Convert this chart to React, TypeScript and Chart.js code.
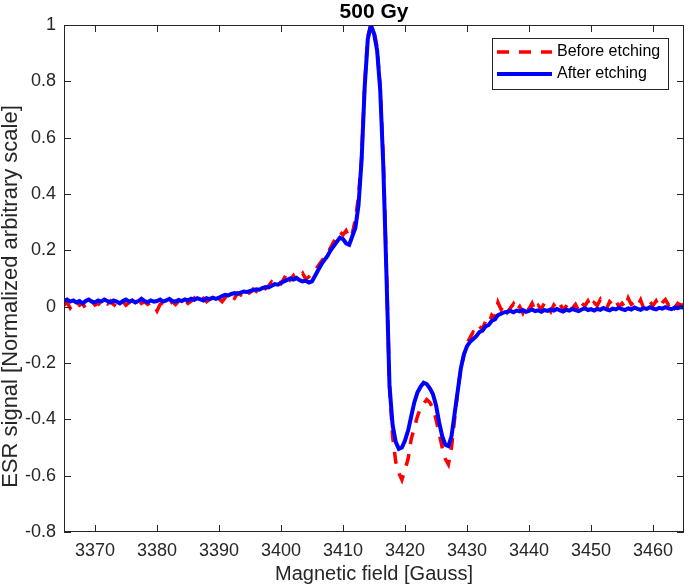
import React, { useEffect, useRef } from "react";
import { Chart, registerables } from "chart.js";

Chart.register(...registerables);

// Magnetic field sampling (Gauss): 3365 .. 3465, every 0.5 G
const fieldStart = 3365;
const fieldStep = 0.5;

// ESR signal, before etching (red dashed)
const beforeEtching: number[] = [
  0.005, 0.015, -0.005, 0.010, 0.020, 0.005, 0.012, -0.008, 0.010, 0.018,
  0.006, 0.012, 0.000, 0.015, 0.010, 0.020, 0.008, 0.000, 0.012, 0.018,
  0.005, 0.015, 0.022, 0.010, 0.004, 0.012, 0.018, 0.008, 0.015, 0.005,
  -0.015, 0.008, 0.015, 0.022, 0.010, 0.018, 0.008, 0.020, 0.014, 0.025,
  0.012, 0.020, 0.030, 0.015, 0.024, 0.030, 0.018, 0.026, 0.035, 0.020,
  0.028, 0.018, 0.032, 0.048, 0.038, 0.030, 0.048, 0.042, 0.058, 0.045,
  0.050, 0.062, 0.054, 0.068, 0.076, 0.064, 0.074, 0.088, 0.078, 0.092,
  0.082, 0.100, 0.122, 0.096, 0.110, 0.092, 0.102, 0.118, 0.098, 0.106,
  0.120, 0.130, 0.145, 0.160, 0.175, 0.190, 0.210, 0.230, 0.255, 0.265,
  0.255, 0.270, 0.245, 0.260, 0.310, 0.390, 0.530, 0.790, 0.960, 1.000,
  0.980, 0.920, 0.780, 0.520, 0.140, -0.280, -0.460, -0.550, -0.590, -0.615,
  -0.580, -0.540, -0.470, -0.430, -0.390, -0.360, -0.345, -0.330, -0.340, -0.360,
  -0.400, -0.450, -0.500, -0.540, -0.560, -0.500, -0.400, -0.300, -0.220, -0.170,
  -0.130, -0.110, -0.090, -0.095, -0.070, -0.080, -0.050, -0.060, -0.030, -0.040,
  0.015, -0.010, 0.005, -0.020, -0.005, 0.010, -0.015, 0.000, -0.022, 0.008,
  -0.008, 0.012, -0.015, 0.004, -0.010, 0.015, -0.005, -0.018, 0.006, -0.008,
  0.010, -0.012, 0.002, 0.018, -0.006, 0.008, -0.014, 0.012, 0.002, 0.020,
  -0.004, 0.014, 0.004, 0.025, 0.002, -0.008, 0.018, 0.006, 0.022, 0.000,
  0.012, -0.004, 0.030, 0.008, 0.016, 0.002, 0.024, -0.006, 0.010, 0.018,
  0.004, 0.020, -0.002, 0.014, 0.025, 0.006, 0.018, -0.004, 0.012, 0.005,
  0.008,
];

// ESR signal, after etching (blue solid)
const afterEtching: number[] = [
  0.020, 0.025, 0.018, 0.022, 0.015, 0.020, 0.012, 0.020, 0.025, 0.018,
  0.015, 0.022, 0.018, 0.025, 0.020, 0.015, 0.022, 0.018, 0.012, 0.020,
  0.025, 0.018, 0.022, 0.015, 0.020, 0.028, 0.020, 0.016, 0.022, 0.018,
  0.020, 0.025, 0.018, 0.022, 0.028, 0.020, 0.018, 0.024, 0.020, 0.026,
  0.022, 0.028, 0.024, 0.030, 0.026, 0.022, 0.030, 0.027, 0.032, 0.028,
  0.032, 0.038, 0.042, 0.040, 0.045, 0.048, 0.046, 0.050, 0.054, 0.052,
  0.056, 0.058, 0.062, 0.060, 0.066, 0.070, 0.068, 0.074, 0.080, 0.078,
  0.084, 0.090, 0.095, 0.100, 0.096, 0.102, 0.094, 0.090, 0.092, 0.086,
  0.090, 0.110, 0.130, 0.150, 0.165, 0.180, 0.200, 0.215, 0.230, 0.245,
  0.240, 0.225, 0.220, 0.250, 0.280, 0.360, 0.520, 0.780, 0.950, 1.000,
  0.970, 0.910, 0.770, 0.500, 0.120, -0.280, -0.420, -0.480, -0.505, -0.500,
  -0.475, -0.440, -0.390, -0.340, -0.305, -0.285, -0.270, -0.275, -0.290, -0.310,
  -0.350, -0.410, -0.460, -0.490, -0.495, -0.460, -0.380, -0.300, -0.220, -0.170,
  -0.140, -0.125, -0.115, -0.105, -0.090, -0.085, -0.070, -0.065, -0.050, -0.045,
  -0.030, -0.025, -0.020, -0.018, -0.015, -0.020, -0.014, -0.017, -0.012, -0.018,
  -0.015, -0.010, -0.016, -0.013, -0.018, -0.012, -0.015, -0.010, -0.014, -0.008,
  -0.013, -0.017, -0.011, -0.014, -0.008, -0.012, -0.016, -0.010, -0.006, -0.012,
  -0.009, -0.014, -0.008, -0.011, -0.005, -0.010, -0.013, -0.007, -0.010, -0.004,
  -0.009, -0.012, -0.006, -0.010, -0.003, -0.008, -0.011, -0.005, -0.008, -0.002,
  -0.007, -0.010, -0.004, -0.007, -0.002, -0.006, -0.009, -0.003, -0.005, -0.001,
  -0.004,
];

const xTicks: number[] = [3370, 3380, 3390, 3400, 3410, 3420, 3430, 3440, 3450, 3460];
const yTicks: number[] = [-0.8, -0.6, -0.4, -0.2, 0, 0.2, 0.4, 0.6, 0.8, 1];

const titleText = "500 Gy";
const xLabel = "Magnetic field [Gauss]";
const yLabel = "ESR signal [Normalized arbitrary scale]";
const seriesNames = ["Before etching", "After etching"];

const FONT = '"Liberation Sans", Arial, Helvetica, sans-serif';
const AXIS_COLOR = "#262626";

const framePlugin = {
  id: "matlabFrame",
  afterDraw(chart: any) {
    const { ctx, chartArea: a, scales } = chart;
    ctx.save();
    ctx.strokeStyle = AXIS_COLOR;
    ctx.lineWidth = 1;
    ctx.strokeRect(a.left + 0.5, a.top + 0.5, a.right - a.left - 1, a.bottom - a.top - 1);
    const tl = 7;
    ctx.beginPath();
    xTicks.forEach((v) => {
      const px = Math.round(scales.x.getPixelForValue(v)) + 0.5;
      ctx.moveTo(px, a.bottom);
      ctx.lineTo(px, a.bottom - tl);
      ctx.moveTo(px, a.top);
      ctx.lineTo(px, a.top + tl);
    });
    yTicks.forEach((v) => {
      const py = Math.round(scales.y.getPixelForValue(v)) + 0.5;
      ctx.moveTo(a.left, py);
      ctx.lineTo(a.left + tl, py);
      ctx.moveTo(a.right, py);
      ctx.lineTo(a.right - tl, py);
    });
    ctx.stroke();

    const cx = (a.left + a.right) / 2;
    ctx.fillStyle = "#000";
    ctx.font = `bold 21px ${FONT}`;
    ctx.textAlign = "center";
    ctx.textBaseline = "middle";
    ctx.fillText(titleText, cx, 12);

    ctx.fillStyle = AXIS_COLOR;
    ctx.font = `20px ${FONT}`;
    ctx.fillText(xLabel, cx, 574);
    ctx.save();
    ctx.translate(11, (a.top + a.bottom) / 2 + 18);
    ctx.rotate(-Math.PI / 2);
    ctx.font = `22px ${FONT}`;
    ctx.fillText(yLabel, 0, 0);
    ctx.restore();

    const lx = 492, ly = 38, lw = 176, lh = 51;
    ctx.fillStyle = "#fff";
    ctx.fillRect(lx, ly, lw, lh);
    ctx.strokeStyle = AXIS_COLOR;
    ctx.lineWidth = 1;
    ctx.strokeRect(lx + 0.5, ly + 0.5, lw, lh);
    const rows = [
      { y: 52, color: "#ff0000", dash: [12, 10], width: 3.5 },
      { y: 74, color: "#0000ff", dash: [], width: 4 },
    ];
    rows.forEach((r, i) => {
      ctx.beginPath();
      ctx.setLineDash(r.dash);
      ctx.strokeStyle = r.color;
      ctx.lineWidth = r.width;
      ctx.moveTo(497, r.y);
      ctx.lineTo(552, r.y);
      ctx.stroke();
      ctx.setLineDash([]);
      ctx.fillStyle = "#000";
      ctx.font = `16px ${FONT}`;
      ctx.textAlign = "left";
      ctx.textBaseline = "middle";
      ctx.fillText(seriesNames[i], 557, r.y);
    });
    ctx.restore();
  },
};

export default function App() {
  const ref = useRef<HTMLCanvasElement>(null);
  useEffect(() => {
    const field = beforeEtching.map((_, i) => fieldStart + i * fieldStep);
    const chart = new Chart(ref.current!, {
      type: "line",
      data: {
        datasets: [
          {
            label: seriesNames[0],
            data: field.map((x, i) => ({ x, y: beforeEtching[i] })),
            borderColor: "#ff0000",
            borderWidth: 3.5,
            borderDash: [12, 10],
            pointRadius: 0,
            tension: 0,
            order: 2,
          },
          {
            label: seriesNames[1],
            data: field.map((x, i) => ({ x, y: afterEtching[i] })),
            borderColor: "#0000ff",
            borderWidth: 4,
            pointRadius: 0,
            tension: 0,
            order: 1,
          },
        ],
      },
      options: {
        animation: false,
        responsive: false,
        devicePixelRatio: 1,
        layout: { padding: { top: 25, right: 1, left: 0, bottom: 0 } },
        plugins: { legend: { display: false }, title: { display: false }, tooltip: { enabled: false } },
        scales: {
          x: {
            type: "linear",
            min: 3365,
            max: 3465,
            grid: { display: false, drawTicks: false },
            border: { display: false },
            afterBuildTicks: (s: any) => {
              s.ticks = xTicks.map((value) => ({ value }));
            },
            afterFit: (s: any) => {
              s.height = 54;
            },
            ticks: {
              autoSkip: false,
              maxRotation: 0,
              padding: 8,
              color: AXIS_COLOR,
              font: { family: FONT, size: 18 },
              callback: (v: any) => String(v),
            },
          },
          y: {
            type: "linear",
            min: -0.8,
            max: 1,
            grid: { display: false, drawTicks: false },
            border: { display: false },
            afterBuildTicks: (s: any) => {
              s.ticks = yTicks.map((value) => ({ value }));
            },
            afterFit: (s: any) => {
              s.width = 64;
            },
            ticks: {
              padding: 8,
              color: AXIS_COLOR,
              font: { family: FONT, size: 18 },
              callback: (v: any) => String(Number(Number(v).toFixed(1))),
            },
          },
        },
      },
      plugins: [framePlugin],
    });
    return () => chart.destroy();
  }, []);
  return (
    <div style={{ position: "fixed", left: 0, top: 0, width: 685, height: 586, background: "#fff" }}>
      <canvas ref={ref} width={685} height={586} style={{ display: "block" }} />
    </div>
  );
}
